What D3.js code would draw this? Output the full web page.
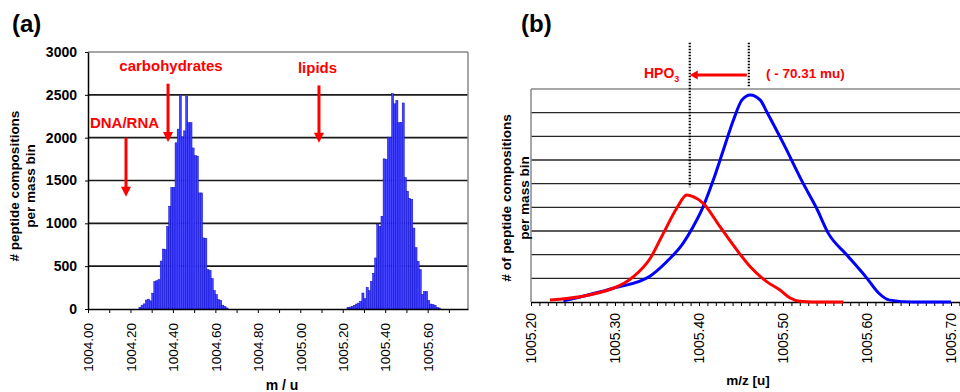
<!DOCTYPE html>
<html>
<head>
<meta charset="utf-8">
<script src="https://cdnjs.cloudflare.com/ajax/libs/d3/7.8.5/d3.min.js"></script>
<style>
  body { margin: 0; background: #fff; }
  svg { display: block; font-family: "Liberation Sans", Arial, sans-serif; }
</style>
</head>
<body>
<svg id="chart" width="960" height="392"></svg>
<script>
// ---- panel (a): histogram, 0.01 u mass bins ----
const binWidth = 0.01;
const peak1Mz = [1004.24, 1004.25, 1004.26, 1004.27, 1004.28, 1004.29, 1004.30, 1004.31, 1004.32, 1004.33,
  1004.34, 1004.35, 1004.36, 1004.37, 1004.38, 1004.39, 1004.40, 1004.41, 1004.42, 1004.43,
  1004.44, 1004.45, 1004.46, 1004.47, 1004.48, 1004.49, 1004.50, 1004.51, 1004.52, 1004.53,
  1004.54, 1004.55, 1004.56, 1004.57, 1004.58, 1004.59, 1004.60, 1004.61, 1004.62, 1004.63,
  1004.64, 1004.65];
const peak1Counts = [20, 45, 60, 105, 115, 95, 185, 320, 330, 345,
  560, 700, 695, 965, 1200, 1420, 1420, 1940, 2100, 2500,
  2010, 2080, 2480, 2175, 2175, 1880, 1790, 1785, 1355, 1355,
  830, 825, 460, 450, 355, 215, 170, 110, 100, 45,
  30, 12];
const peak2Mz = [1005.22, 1005.23, 1005.24, 1005.25, 1005.26, 1005.27, 1005.28, 1005.29, 1005.30, 1005.31,
  1005.32, 1005.33, 1005.34, 1005.35, 1005.36, 1005.37, 1005.38, 1005.39, 1005.40, 1005.41,
  1005.42, 1005.43, 1005.44, 1005.45, 1005.46, 1005.47, 1005.48, 1005.49, 1005.50, 1005.51,
  1005.52, 1005.53, 1005.54, 1005.55, 1005.56, 1005.57, 1005.58, 1005.59, 1005.60, 1005.61,
  1005.62, 1005.63, 1005.64, 1005.65];
const peak2Counts = [20, 23, 31, 43, 58, 70, 90, 187, 121, 253,
  214, 323, 417, 596, 986, 966, 1083, 1753, 1746, 2007,
  2000, 2515, 2395, 2435, 2175, 2180, 2405, 1535, 1375, 1290,
  1280, 945, 715, 555, 460, 170, 205, 205, 100, 58,
  52, 43, 19, 12];
const aYTicks = [0, 500, 1000, 1500, 2000, 2500, 3000];
const aXTicks = [1004.0, 1004.1, 1004.2, 1004.3, 1004.4, 1004.5, 1004.6, 1004.7, 1004.8, 1004.9,
  1005.0, 1005.1, 1005.2, 1005.3, 1005.4, 1005.5, 1005.6, 1005.7];
const aXLabels = ["1004.00", "1004.20", "1004.40", "1004.60", "1004.80", "1005.00", "1005.20", "1005.40", "1005.60"];
// annotation arrows: [label, m/z, arrow top, arrow tip]
const aNotes = [
  ["DNA/RNA", 1004.179, 2000, 1310],
  ["carbohydrates", 1004.377, 2630, 1950],
  ["lipids", 1005.088, 2610, 1940]
];

// ---- panel (b): smoothed distributions ----
const blueMz = [1005.2385, 1005.298, 1005.342, 1005.3615, 1005.381, 1005.393, 1005.405, 1005.417, 1005.429,
  1005.441, 1005.451, 1005.461, 1005.473, 1005.4806, 1005.5004, 1005.524, 1005.540, 1005.554, 1005.576,
  1005.600, 1005.6135, 1005.627, 1005.655, 1005.700];
const blueVal = [0.05, 0.58, 1.10, 1.70, 2.48, 3.18, 4.03, 5.15, 6.42,
  7.69, 8.53, 8.75, 8.53, 8.04, 6.70, 5.01, 3.96, 2.90, 1.99,
  1.00, 0.39, 0.08, 0.0, 0.0];
const redMz = [1005.2226, 1005.298, 1005.322, 1005.342, 1005.3575, 1005.3735, 1005.3854, 1005.393, 1005.405,
  1005.425, 1005.445, 1005.461, 1005.4806, 1005.4964, 1005.508, 1005.520, 1005.536, 1005.572];
const redVal = [0.08, 0.58, 1.07, 1.85, 2.90, 3.96, 4.52, 4.45, 4.17,
  3.18, 2.20, 1.49, 0.86, 0.51, 0.18, 0.03, 0.0, 0.0];
const bYGrid = [1, 2, 3, 4, 5, 6, 7, 8];
const bXLabels = ["1005.20", "1005.30", "1005.40", "1005.50", "1005.60", "1005.70"];
const shiftMz = [1005.389, 1005.4593]; // HPO3 loss, -70.31 mu

const svg = d3.select("#chart");
const red = "#ff0000";

function arrowDown(g, x, y1, y2) {
  g.append("line").attr("x1", x).attr("x2", x).attr("y1", y1).attr("y2", y2 - 8)
    .attr("stroke", red).attr("stroke-width", 3);
  g.append("path").attr("d", `M${x - 5},${y2 - 10}L${x + 5},${y2 - 10}L${x},${y2}Z`).attr("fill", red);
}

// ================= (a) =================
const ax = d3.scaleLinear().domain([1004.0, 1005.79]).range([88, 468]);
const ay = d3.scaleLinear().domain([0, 3000]).range([309, 52]);
const ga = svg.append("g");

ga.selectAll(".grid").data(aYTicks.slice(1, -1)).enter().append("line")
  .attr("x1", ax.range()[0]).attr("x2", ax.range()[1])
  .attr("y1", d => ay(d)).attr("y2", d => ay(d))
  .attr("stroke", "#1a1a1a").attr("stroke-width", 1.6);
ga.append("line").attr("x1", ax.range()[0]).attr("x2", ax.range()[1])
  .attr("y1", ay(3000)).attr("y2", ay(3000)).attr("stroke", "#888").attr("stroke-width", 1.5);
ga.append("line").attr("x1", ax.range()[1]).attr("x2", ax.range()[1])
  .attr("y1", ay(3000)).attr("y2", ay(0)).attr("stroke", "#888").attr("stroke-width", 1.5);

const bars = peak1Mz.map((m, i) => ({ m: m, c: peak1Counts[i] }))
  .concat(peak2Mz.map((m, i) => ({ m: m, c: peak2Counts[i] })));
ga.selectAll(".bar").data(bars).enter().append("rect")
  .attr("x", d => ax(d.m))
  .attr("y", d => ay(d.c))
  .attr("width", d => ax(d.m + binWidth) - ax(d.m))
  .attr("height", d => ay(0) - ay(d.c))
  .attr("fill", "#4444ff").attr("stroke", "#0000c8").attr("stroke-width", 0.45);

const yAxisA = ga.append("g").attr("transform", "translate(88,0)")
  .call(d3.axisLeft(ay).tickValues(aYTicks).tickSize(3).tickSizeOuter(0).tickPadding(8)
    .tickFormat(d3.format("d")));
yAxisA.select(".domain").attr("stroke", "#000").attr("stroke-width", 1.5);
yAxisA.selectAll("text").attr("font-size", 14).attr("font-weight", "bold")
  .attr("font-family", "Liberation Sans, Arial, sans-serif").attr("fill", "#000");

const xAxisA = ga.append("g").attr("transform", "translate(0,309)")
  .call(d3.axisBottom(ax).tickValues(aXTicks).tickSize(4).tickSizeOuter(0)
    .tickFormat(d => aXLabels.includes(d.toFixed(2)) ? d.toFixed(2) : ""));
xAxisA.select(".domain").attr("stroke", "#000").attr("stroke-width", 1.5);
xAxisA.selectAll("text").attr("transform", "rotate(-90)").attr("text-anchor", "end")
  .attr("x", -14).attr("y", 0).attr("dy", "0.35em")
  .attr("font-size", 13.5).attr("font-family", "Liberation Sans, Arial, sans-serif").attr("fill", "#000");

aNotes.forEach(n => arrowDown(ga, ax(n[1]), ay(n[2]), ay(n[3])));
ga.append("text").attr("x", 124.5).attr("y", 128).text(aNotes[0][0]);
ga.append("text").attr("x", 171).attr("y", 71).text(aNotes[1][0]);
ga.append("text").attr("x", 317.5).attr("y", 73).text(aNotes[2][0]);
ga.selectAll(":scope > text").attr("fill", red).attr("font-size", 15)
  .attr("font-weight", "bold").attr("text-anchor", "middle");

ga.append("text").attr("transform", "translate(18.5,186) rotate(-90)").attr("text-anchor", "middle")
  .attr("font-size", 13.5).attr("font-weight", "bold").text("# peptide compositions");
ga.append("text").attr("transform", "translate(34.5,186) rotate(-90)").attr("text-anchor", "middle")
  .attr("font-size", 13.5).attr("font-weight", "bold").text("per mass bin");
ga.append("text").attr("x", 282).attr("y", 390).attr("text-anchor", "middle")
  .attr("font-size", 14).attr("font-weight", "bold").text("m / u");
ga.append("text").attr("x", 12).attr("y", 32).attr("font-size", 24).attr("font-weight", "bold").text("(a)");

// ================= (b) =================
const bx = d3.scaleLinear().domain([1005.20, 1005.7107]).range([531, 960]);
const by = d3.scaleLinear().domain([0, 9]).range([302, 89]);
const gb = svg.append("g");

gb.selectAll(".grid").data(bYGrid).enter().append("line")
  .attr("x1", bx.range()[0]).attr("x2", bx.range()[1])
  .attr("y1", d => by(d)).attr("y2", d => by(d))
  .attr("stroke", "#262626").attr("stroke-width", 1.4);
gb.append("line").attr("x1", bx.range()[0]).attr("x2", bx.range()[1])
  .attr("y1", by(9)).attr("y2", by(9)).attr("stroke", "#888").attr("stroke-width", 1.5);
gb.append("line").attr("x1", bx.range()[0]).attr("x2", bx.range()[0])
  .attr("y1", by(9)).attr("y2", by(0)).attr("stroke", "#888").attr("stroke-width", 1.5);

const bTicks = d3.range(0, 52).map(i => 1005.20 + i * 0.01);
const xAxisB = gb.append("g").attr("transform", "translate(0,302)")
  .call(d3.axisBottom(bx).tickValues(bTicks).tickSize(4).tickSizeOuter(0)
    .tickFormat(d => bXLabels.includes(d.toFixed(2)) ? d.toFixed(2) : ""));
xAxisB.select(".domain").attr("stroke", "#000").attr("stroke-width", 1.5);
xAxisB.selectAll("text").attr("transform", "rotate(-90)").attr("text-anchor", "end")
  .attr("x", -11).attr("y", 0).attr("dy", "0.35em")
  .attr("font-size", 14).attr("font-family", "Liberation Sans, Arial, sans-serif").attr("fill", "#000");

const line = d3.line().x(d => bx(d[0])).y(d => by(d[1])).curve(d3.curveMonotoneX);
gb.append("path").attr("d", line(blueMz.map((m, i) => [m, blueVal[i]])))
  .attr("fill", "none").attr("stroke", "#0000ff").attr("stroke-width", 3).attr("stroke-linejoin", "round");
gb.append("path").attr("d", line(redMz.map((m, i) => [m, redVal[i]])))
  .attr("fill", "none").attr("stroke", red).attr("stroke-width", 3).attr("stroke-linejoin", "round");

// dotted peak markers and shift arrow
[[shiftMz[0], 4.85], [shiftMz[1], 9.1]].forEach(s => {
  gb.append("line").attr("x1", bx(s[0])).attr("x2", bx(s[0]))
    .attr("y1", by(10.95)).attr("y2", by(s[1]))
    .attr("stroke", "#000").attr("stroke-width", 2.2).attr("stroke-dasharray", "1.5,1.5");
});
const ay0 = by(9.59);
gb.append("line").attr("x1", bx(shiftMz[1]) - 2).attr("x2", bx(shiftMz[0]) + 6)
  .attr("y1", ay0).attr("y2", ay0).attr("stroke", red).attr("stroke-width", 3);
gb.append("path").attr("d", `M${bx(shiftMz[0])},${ay0}L${bx(shiftMz[0]) + 8},${ay0 - 4.5}L${bx(shiftMz[0]) + 8},${ay0 + 4.5}Z`)
  .attr("fill", red);
const hpo = gb.append("text").attr("x", 644).attr("y", 78).attr("fill", red)
  .attr("font-size", 14).attr("font-weight", "bold");
hpo.append("tspan").text("HPO");
hpo.append("tspan").attr("font-size", 9).attr("dy", 4).text("3");
gb.append("text").attr("x", 766).attr("y", 78).attr("fill", red)
  .attr("font-size", 13.5).attr("font-weight", "bold").text("( - 70.31 mu)");

gb.append("text").attr("transform", "translate(510.5,198) rotate(-90)").attr("text-anchor", "middle")
  .attr("font-size", 13.5).attr("font-weight", "bold").text("# of peptide compositions");
gb.append("text").attr("transform", "translate(528.5,198) rotate(-90)").attr("text-anchor", "middle")
  .attr("font-size", 13.5).attr("font-weight", "bold").text("per mass bin");
gb.append("text").attr("x", 748).attr("y", 385).attr("text-anchor", "middle")
  .attr("font-size", 13.5).attr("font-weight", "bold").text("m/z [u]");
gb.append("text").attr("x", 521).attr("y", 32).attr("font-size", 24).attr("font-weight", "bold").text("(b)");
</script>
</body>
</html>
